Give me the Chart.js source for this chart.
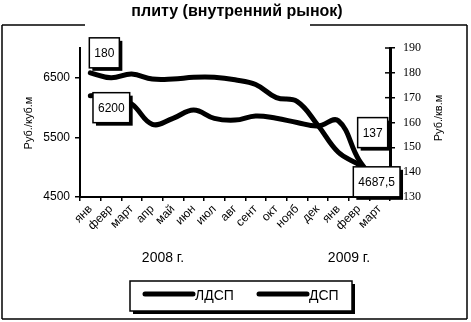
<!DOCTYPE html>
<html>
<head>
<meta charset="utf-8">
<script src="https://cdn.jsdelivr.net/npm/chart.js@4/dist/chart.umd.min.js"></script>
<style>
  html, body { margin: 0; padding: 0; background: #fff; }
  canvas { display: block; }
</style>
</head>
<body>
<canvas id="chart" width="471" height="322"></canvas>
<script>
// months Jan 2008 .. Mar 2009
const months = ['янв', 'февр', 'март', 'апр', 'май', 'июн', 'июл', 'авг', 'сент', 'окт', 'нояб', 'дек', 'янв', 'февр', 'март'];
const years = ['2008 г.', '2009 г.'];
// ЛДСП, руб./куб.м (left axis)
const ldsp = [6200, 6200, 6060, 5720, 5820, 5960, 5820, 5790, 5860, 5820, 5750, 5690, 5780, 5120, 4687.5];
// ДСП, руб./кв.м (right axis)
const dsp = [180, 178, 179.5, 177.5, 177.5, 178.2, 178.2, 177.2, 175.3, 170, 168.5, 159, 148, 143, 137];
const ldspTicks = [4500, 5500, 6500];
const dspTicks = [130, 140, 150, 160, 170, 180, 190];
const chartTitle = 'плиту (внутренний рынок)';

const SANS = '"Liberation Sans", Arial, sans-serif';
const NARROW = '"Liberation Sans Narrow", "Liberation Sans", sans-serif';

// labels on first/last points, dragged by hand in the original
const pointLabels = [
    {ds: 1, i: 0, dx: 14, dy: -20},
    {ds: 0, i: 0, dx: 21, dy: 12},
    {ds: 1, i: 14, dx: -7, dy: -47},
    {ds: 0, i: 14, dx: -3, dy: -4}
];

function line(ctx, x1, y1, x2, y2) {
    ctx.beginPath();
    ctx.moveTo(x1, y1);
    ctx.lineTo(x2, y2);
    ctx.stroke();
}

function shadowBox(ctx, x, y, w, h, off) {
    ctx.fillStyle = '#000';
    ctx.fillRect(x + off, y + off, w, h);
    ctx.fillStyle = '#fff';
    ctx.fillRect(x, y, w, h);
    ctx.strokeStyle = '#000';
    ctx.lineWidth = 1.5;
    ctx.strokeRect(x, y, w, h);
}

const decor = {
    id: 'decor',
    afterDraw(chart) {
        const ctx = chart.ctx;
        const yR = chart.scales.y1;
        ctx.save();
        ctx.fillStyle = '#000';
        ctx.strokeStyle = '#000';

        // title (first line is cut off in the original)
        ctx.font = 'bold 16px ' + NARROW;
        ctx.textAlign = 'center';
        ctx.textBaseline = 'middle';
        ctx.fillText(chartTitle, 237, 12);

        // outer frame
        ctx.lineWidth = 1.5;
        line(ctx, 2, 25, 85, 25);
        line(ctx, 310, 25, 467, 25);
        line(ctx, 2, 25, 2, 319);
        line(ctx, 467, 25, 467, 319);
        line(ctx, 2, 319, 467, 319);

        // inner half of the right axis cross ticks
        yR.ticks.forEach(t => {
            const py = yR.getPixelForValue(t.value);
            line(ctx, yR.left - 5, py, yR.left, py);
        });

        // axis titles
        ctx.fillStyle = '#000';
        ctx.font = '11px ' + SANS;
        ctx.save();
        ctx.translate(29, 123);
        ctx.rotate(-Math.PI / 2);
        ctx.fillText('Руб./куб.м', 0, 0);
        ctx.restore();
        ctx.save();
        ctx.translate(439, 118);
        ctx.rotate(-Math.PI / 2);
        ctx.fillText('Руб./кв.м', 0, 0);
        ctx.restore();

        // years under the month labels
        ctx.font = '14px ' + NARROW;
        ctx.fillText(years[0], 163, 258);
        ctx.fillText(years[1], 349, 258);

        // data labels
        ctx.font = '12px ' + SANS;
        pointLabels.forEach(p => {
            const pt = chart.getDatasetMeta(p.ds).data[p.i];
            const txt = String(chart.data.datasets[p.ds].data[p.i]).replace('.', ',');
            const w = ctx.measureText(txt).width + 10;
            const h = 30;
            const cx = pt.x + p.dx, cy = pt.y + p.dy;
            shadowBox(ctx, cx - w / 2, cy - h / 2, w, h, 3);
            ctx.fillStyle = '#000';
            ctx.fillText(txt, cx, cy + 1);
        });

        // legend
        shadowBox(ctx, 130, 281, 222, 30, 3);
        ctx.lineWidth = 5;
        ctx.lineCap = 'round';
        ctx.font = '14px ' + SANS;
        ctx.textAlign = 'left';
        ctx.fillStyle = '#000';
        const items = [[145, chart.data.datasets[0].label], [259, chart.data.datasets[1].label]];
        items.forEach(it => {
            line(ctx, it[0], 294, it[0] + 48, 294);
            ctx.fillText(it[1], it[0] + 50, 296);
        });

        ctx.restore();
    }
};

const ctx = document.getElementById('chart').getContext('2d');
const chart = new Chart(ctx, {
    type: 'line',
    data: {
        labels: months,
        datasets: [
            {label: 'ЛДСП', data: ldsp, yAxisID: 'y', borderColor: '#000', borderWidth: 5,
                pointRadius: 0, tension: 0.4, fill: false, borderCapStyle: 'round', borderJoinStyle: 'round'},
            {label: 'ДСП', data: dsp, yAxisID: 'y1', borderColor: '#000', borderWidth: 5,
                pointRadius: 0, tension: 0.4, fill: false, borderCapStyle: 'round', borderJoinStyle: 'round'}
        ]
    },
    options: {
        responsive: false,
        animation: false,
        devicePixelRatio: 1,
        layout: {padding: {top: 48, left: 0, right: 0, bottom: 0}},
        plugins: {legend: {display: false}, title: {display: false}, tooltip: {enabled: false}},
        scales: {
            x: {
                type: 'category',
                offset: true,
                grid: {offset: true, drawOnChartArea: false, color: '#000', lineWidth: 1.5, tickLength: 4},
                border: {color: '#000', width: 2},
                ticks: {color: '#000', font: {size: 12, family: SANS}, minRotation: 45, maxRotation: 45,
                    autoSkip: false, padding: 1},
                afterFit: s => { s.height = 125; }
            },
            y: {
                position: 'left',
                min: 4500,
                max: 7000,
                afterBuildTicks: s => { s.ticks = ldspTicks.map(v => ({value: v})); },
                grid: {drawOnChartArea: false, color: '#000', lineWidth: 1.5, tickLength: 5},
                border: {color: '#000', width: 2},
                ticks: {color: '#000', font: {size: 12, family: SANS}, padding: 5, callback: v => String(v)},
                afterFit: s => { s.width = 80; }
            },
            y1: {
                position: 'right',
                min: 130,
                max: 190,
                afterBuildTicks: s => { s.ticks = dspTicks.map(v => ({value: v})); },
                grid: {drawOnChartArea: false, color: '#000', lineWidth: 1.5, tickLength: 5},
                border: {color: '#000', width: 3},
                ticks: {color: '#000', font: {size: 12, family: '"Liberation Serif", serif'}, padding: 8,
                    callback: v => String(v)},
                afterFit: s => { s.width = 81; }
            }
        }
    },
    plugins: [decor]
});
</script>
</body>
</html>
